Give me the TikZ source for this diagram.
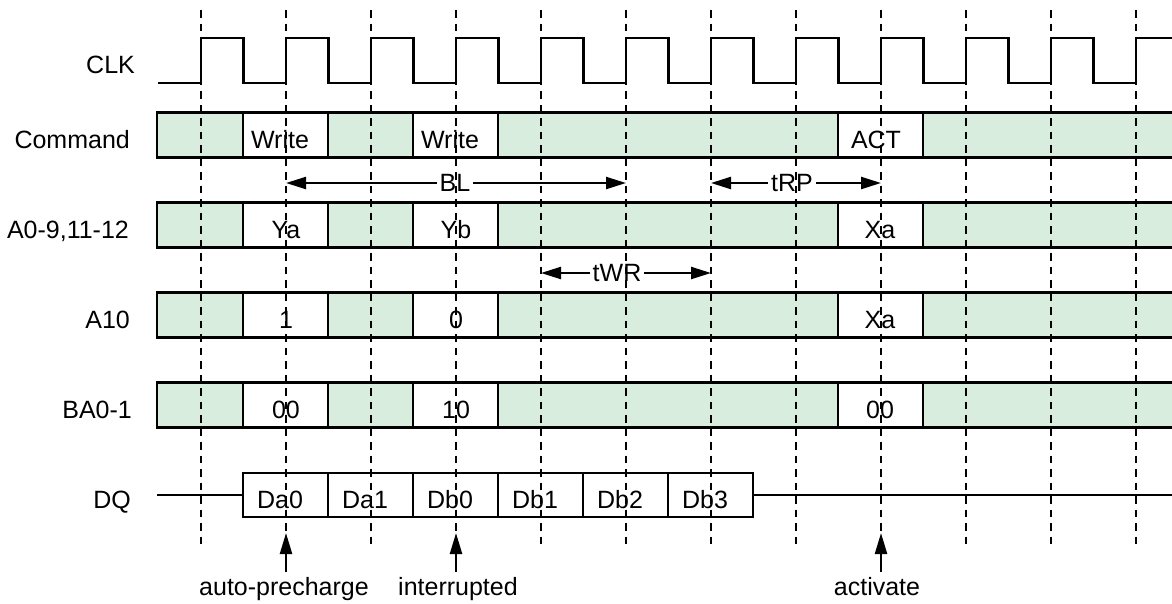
\documentclass[tikz,border=0pt]{standalone}
\usepackage{fontspec}
\setmainfont{Liberation Sans}
\usetikzlibrary{arrows.meta}
\definecolor{busgreen}{RGB}{217,237,223}
\begin{document}
\begin{tikzpicture}[x=1pt,y=-1pt,line width=2.3pt,
  txt/.style={font=\fontsize{25}{30}\selectfont,inner sep=0pt},
  valbox/.style={draw,fill=white,minimum width=85pt,minimum height=45pt,inner sep=0pt},
  dqbox/.style={draw,fill=white,minimum width=85pt,minimum height=44pt,inner sep=0pt},
  gridline/.style={dash pattern=on 7.5pt off 6pt,line width=2.3pt},
  dimarrow/.style={{Triangle[length=20pt,width=12pt]}-{Triangle[length=20pt,width=12pt]}},
  marker/.style={-{Triangle[length=21pt,width=12pt]}},
  dimlbl/.style={txt,fill=white,inner xsep=3pt,inner ysep=1pt}]
\useasboundingbox (0,0) rectangle (1172,603);

% signal names
\node[txt,anchor=base east] (nclk) at (136,73) {CLK};
\node[txt,anchor=base east] (ncmd) at (131,148) {Command};
\node[txt,anchor=base east] (naddr) at (130,238) {A0-9,11-12};
\node[txt,anchor=base east] (na10) at (131,328) {A10};
\node[txt,anchor=base east] (nba) at (133,418) {BA0-1};
\node[txt,anchor=base east] (ndq) at (132,508) {DQ};

% clock
\draw (158,83) \foreach \k in {0,...,10}{ -- ({201+85*\k},83) -- ({201+85*\k},38) -- ({243.5+85*\k},38) -- ({243.5+85*\k},83) } -- (1136,83) -- (1136,38) -- (1172,38);

% buses
\foreach \r in {135,225,315,405}{
  \fill[busgreen] (157,\r-22.5) rectangle (1172,\r+22.5);
  \draw (1172,\r-22.5) -| (157,\r+22.5) -- (1172,\r+22.5);
}

% command row
\node[valbox] (c1) at (285.5,135) {};
\node[valbox] (c2) at (455.5,135) {};
\node[valbox] (c3) at (880.5,135) {};
\node[txt,anchor=base] (c1t) at (280,148) {Write};
\node[txt,anchor=base] (c2t) at (450,148) {Write};
\node[txt,anchor=base] (c3t) at (876,148) {ACT};

% address row
\node[valbox] (a1) at (285.5,225) {};
\node[valbox] (a2) at (455.5,225) {};
\node[valbox] (a3) at (880.5,225) {};
\node[txt,anchor=base] (a1t) at (286,238) {Ya};
\node[txt,anchor=base] (a2t) at (456,238) {Yb};
\node[txt,anchor=base] (a3t) at (880,238) {Xa};

% A10 row
\node[valbox] (p1) at (285.5,315) {};
\node[valbox] (p2) at (455.5,315) {};
\node[valbox] (p3) at (880.5,315) {};
\node[txt,anchor=base] (p1t) at (286,328) {1};
\node[txt,anchor=base] (p2t) at (456,328) {0};
\node[txt,anchor=base] (p3t) at (880,328) {Xa};

% BA row
\node[valbox] (b1) at (285.5,405) {};
\node[valbox] (b2) at (455.5,405) {};
\node[valbox] (b3) at (880.5,405) {};
\node[txt,anchor=base] (b1t) at (286,418) {00};
\node[txt,anchor=base] (b2t) at (456,418) {10};
\node[txt,anchor=base] (b3t) at (880,418) {00};

% DQ row
\coordinate (dqL) at (157,495);
\coordinate (dqR) at (1172,495);
\foreach \n/\lab [count=\i from 0] in {d0/Da0,d1/Da1,d2/Db0,d3/Db1,d4/Db2,d5/Db3}{
  \node[dqbox] (\n) at ({285.5+85*\i},495) {};
  \node[txt,anchor=base] (\n t) at ({280+85*\i},508) {\lab};
}
\draw (dqL) -- (d0.west);
\draw (d5.east) -- (dqR);

% timing dimensions
\coordinate (blL) at (286,183);
\coordinate (blR) at (626,183);
\draw[dimarrow] (blL) -- (blR);
\node[dimlbl] (bl) at (455,183) {BL};
\coordinate (rpL) at (711,183);
\coordinate (rpR) at (881,183);
\draw[dimarrow] (rpL) -- (rpR);
\node[dimlbl] (rp) at (792,183) {tRP};
\coordinate (wrL) at (541,273);
\coordinate (wrR) at (711,273);
\draw[dimarrow] (wrL) -- (wrR);
\node[dimlbl] (wr) at (617,273) {tWR};

% event markers
\foreach \n/\x in {m1/286,m2/456,m3/881}{
  \coordinate (\n s) at (\x,572);
  \coordinate (\n e) at (\x,533);
  \draw[marker] (\n s) -- (\n e);
}
\node[txt,anchor=base] (l1) at (284,595) {auto-precharge};
\node[txt,anchor=base] (l2) at (458,595) {interrupted};
\node[txt,anchor=base] (l3) at (877,595) {activate};

% clock edge grid
\foreach \k in {0,...,11}{
  \draw[gridline] ({201+85*\k},10) -- ({201+85*\k},544);
}
\end{tikzpicture}
\end{document}
